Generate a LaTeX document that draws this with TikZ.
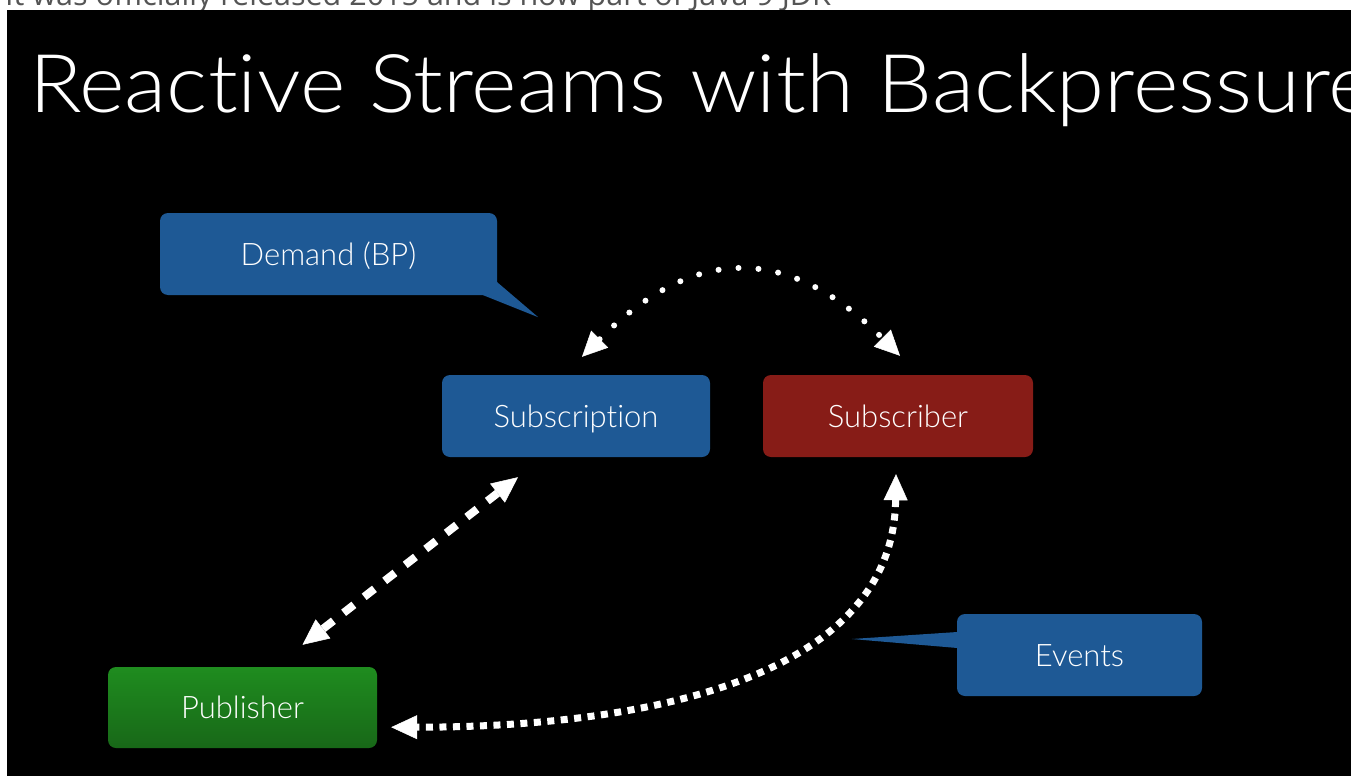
\documentclass[tikz,border=0pt]{standalone}
\usepackage{fontspec}
\newfontfamily\lightfont{Lato Light}[RawFeature=-liga]
\newfontfamily\notefont{Open Sans}
\usetikzlibrary{arrows.meta,calc}
\definecolor{boxblue}{RGB}{30,89,149}
\definecolor{boxred}{RGB}{135,28,23}
\definecolor{greentop}{RGB}{31,140,31}
\definecolor{greenbot}{RGB}{24,104,24}
\definecolor{notegray}{RGB}{85,85,85}
\tikzset{
  box/.style={rounded corners=8pt, inner sep=0pt, minimum height=82pt,
    text=white, text height=22pt, text depth=0pt,
    font=\lightfont\fontsize{31}{36}\selectfont},
  dotarc/.style={draw=white, fill=none, line width=6pt, line cap=round,
    dash pattern=on 0pt off 20pt, {Triangle[length=25pt,width=24pt,line width=0.5pt]}-{Triangle[length=25pt,width=24pt,line width=0.5pt]}},
  dashline/.style={draw=white, line width=8pt, dash pattern=on 13pt off 13pt,
    {Triangle[length=26pt,width=24pt,line width=0.5pt]}-{Triangle[length=26pt,width=24pt,line width=0.5pt]}},
  sqdots/.style={draw=white, line width=7pt, dash pattern=on 7pt off 6.5pt,
    {Triangle[length=26pt,width=24pt,line width=0.5pt]}-{Triangle[length=26pt,width=24pt,line width=0.5pt]}}
}
\begin{document}
\begin{tikzpicture}[x=1pt,y=-1pt]
\useasboundingbox (0,0) rectangle (1371,776);
\fill[white] (0,0) rectangle (1371,776);
\node[anchor=base west, inner sep=0pt, text=notegray,
  font=\notefont\fontsize{30.5}{34}\selectfont] (note) at (5,6)
  {It was officially released 2015 and is now part of Java 9 JDK};
\fill[black] (7,10) rectangle (1351,776);
\begin{scope}
\clip (7,10) rectangle (1351,776);
\node[anchor=base west, inner sep=0pt, text=white, xscale=1.075,
  font=\lightfont\fontsize{81}{90}\selectfont] (title) at (29,113)
  {Reactive Streams with Backpressure};
\end{scope}
% boxes
\node[box, fill=boxblue, minimum width=337pt] (dem) at (328.5,254) {Demand (BP)};
\fill[boxblue] ($(dem.south east)+(0,-13)$) -- ($(dem.south east)+(41,22)$) -- ($(dem.south east)+(-14,0)$) -- cycle;
\node[box, fill=boxblue, minimum width=268pt] (subn) at (576,416) {Subscription};
\node[box, fill=boxred, minimum width=270pt] (subr) at (898,416) {Subscriber};
\node[box, top color=greentop, bottom color=greenbot, minimum width=269pt, minimum height=81pt] (pub) at (242.5,707.5) {Publisher};
\node[box, fill=boxblue, minimum width=245pt] (ev) at (1079.5,655) {Events};
\fill[boxblue] ($(ev.west)+(0.5,-23)$) -- ($(ev.west)+(-105,-16)$) -- ($(ev.west)+(0.5,-7)$) -- cycle;
% connectors
\draw[dotarc] ($(subn.north)+(6,-18)$) .. controls +(112,-112) and +(-112,-112) .. ($(subr.north)+(2,-19)$);
\draw[dashline] ($(subn.south)+(-58,20)$) -- ($(pub.north)+(60,-22)$);
\draw[sqdots] ($(subr.south)+(-2,17)$) .. controls +(-3,206) and +(249,0) .. ($(pub.south east)+(14,-21)$);
\end{tikzpicture}
\end{document}
